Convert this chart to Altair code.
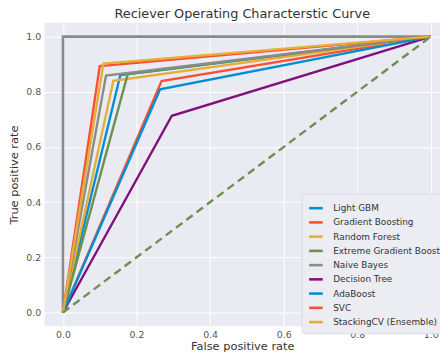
import altair as alt
import pandas as pd

models = ["Light GBM", "Gradient Boosting", "Random Forest", "Extreme Gradient Boost",
          "Naive Bayes", "Decision Tree", "AdaBoost", "SVC", "StackingCV (Ensemble)"]
colors = ["#008fd5", "#fc4f30", "#e5ae38", "#6d904f", "#8b8b8b", "#810f7c",
          "#008fd5", "#fc4f30", "#e5ae38"]
# kink point of each ROC curve (curves go (0,0) -> kink -> (1,1))
kink_fpr = [0.156, 0.268, 0.137, 0.176, 0.117, 0.296, 0.264, 0.100, 0.110]
kink_tpr = [0.861, 0.839, 0.840, 0.864, 0.859, 0.713, 0.809, 0.893, 0.902]

rows = []
for m, fx, ty in zip(models, kink_fpr, kink_tpr):
    for i, (x, y) in enumerate([(0.0, 0.0), (fx, ty), (1.0, 1.0)]):
        rows.append({"model": m, "fpr": x, "tpr": y, "idx": i})
df = pd.DataFrame(rows)

perfect_x = [0.0, 0.0, 1.0]
perfect_y = [0.0, 1.0, 1.0]
diag_x = [0.0, 1.0]
diag_y = [0.0, 1.0]
perf_df = pd.DataFrame({"fpr": perfect_x, "tpr": perfect_y, "idx": [0, 1, 2]})
diag_df = pd.DataFrame({"fpr": diag_x, "tpr": diag_y, "idx": [0, 1]})

xs = alt.Scale(domain=[-0.05, 1.025], nice=False, zero=False)
ys = alt.Scale(domain=[-0.05, 1.05], nice=False, zero=False)
ticks = [0.0, 0.2, 0.4, 0.6, 0.8, 1.0]

xax = alt.Axis(title="False positive rate", values=ticks, format=".1f", grid=True,
               labelPadding=3, titlePadding=2)
yax = alt.Axis(title="True positive rate", values=ticks, format=".1f", grid=True,
               labelPadding=4, titlePadding=6)

perfect = alt.Chart(perf_df).mark_line(color="#8b8b8b", strokeWidth=2.6).encode(
    x=alt.X("fpr:Q", scale=xs, axis=xax),
    y=alt.Y("tpr:Q", scale=ys, axis=yax),
    order="idx:Q",
)

curves = alt.Chart(df).mark_line(strokeWidth=2.4).encode(
    x=alt.X("fpr:Q", scale=xs),
    y=alt.Y("tpr:Q", scale=ys),
    color=alt.Color("model:N", sort=models,
                    scale=alt.Scale(domain=models, range=colors),
                    legend=alt.Legend(title=None, orient="none", legendX=260, legendY=173,
                                      symbolType="stroke", symbolStrokeWidth=2.6,
                                      symbolSize=190, labelFontSize=9, labelColor="#333",
                                      labelFont="DejaVu Sans", rowPadding=0.4,
                                      labelOffset=9,
                                      fillColor="#ececf3", strokeColor="#dcdce4",
                                      cornerRadius=3, padding=6, labelLimit=200)),
    order="idx:Q",
)

diag = alt.Chart(diag_df).mark_line(color="#6d904f", strokeWidth=2.4,
                                    strokeDash=[8, 5]).encode(
    x=alt.X("fpr:Q", scale=xs),
    y=alt.Y("tpr:Q", scale=ys),
    order="idx:Q",
)

chart = alt.layer(perfect, curves, diag).properties(
    width=400, height=307,
    title=alt.TitleParams("Reciever Operating Characterstic Curve", fontSize=13,
                          font="DejaVu Sans", fontWeight="normal", color="#333",
                          offset=2),
    autosize=alt.AutoSizeParams(type="none"),
    padding={"left": 37, "top": 13, "right": 0, "bottom": 24},
).configure_view(fill="#eaeaf2", stroke=None).configure_axis(
    gridColor="white", gridWidth=1, domain=False, ticks=False,
    labelFont="DejaVu Sans", labelFontSize=9.5, labelColor="#555",
    titleFont="DejaVu Sans", titleFontSize=11.5, titleFontWeight="normal",
    titleColor="#333",
)

chart.save("out.html", embed_options={"renderer": "svg", "actions": False})
